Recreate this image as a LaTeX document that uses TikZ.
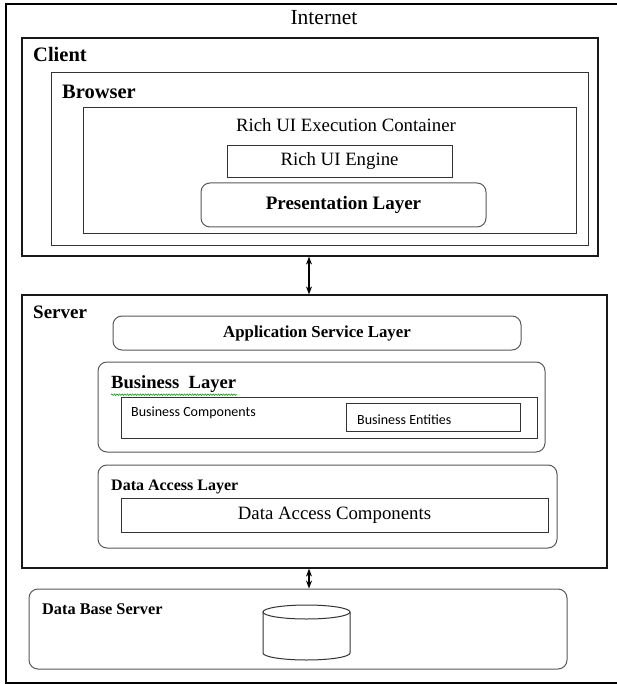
\documentclass[tikz,border=0pt]{standalone}
\usepackage{fontspec}
\setmainfont{Liberation Serif}
\newfontfamily\calib{Carlito}
\usetikzlibrary{arrows.meta,decorations.pathmorphing}
\begin{document}
\begin{tikzpicture}[x=1pt,y=-1pt,
  frame/.style={draw=black!90,line width=1.2pt,inner sep=0pt},
  sqbox/.style={draw=black!80,line width=0.9pt,inner sep=0pt},
  rbox/.style={draw=black!65,line width=1pt,rounded corners=9pt,inner sep=0pt},
  lbl/.style={anchor=west,inner sep=0pt,font=\bfseries\fontsize{20.5}{22}\selectfont},
  slbl/.style={anchor=west,inner sep=0pt,font=\bfseries\fontsize{16.3}{18}\selectfont},
  dbl/.style={{Stealth[length=8pt,width=6pt]}-{Stealth[length=8pt,width=6pt]},line width=1.2pt}]
\useasboundingbox (0,0) rectangle (616,684);
\fill[white] (0,0) rectangle (616,684);

% outer Internet frame (right edge runs off the page)
\draw[line width=1.8pt] (640,4) -- (6,4) -- (6,683) -- (640,683);
\node[inner sep=0pt,font=\fontsize{21.5}{23}\selectfont] (internet) at (324,18) {Internet};

% client side
\node[frame,minimum width=576,minimum height=218] (client) at (310,147) {};
\node[lbl] (clientl) at (33,54) {Client};
\node[sqbox,minimum width=537,minimum height=173] (browser) at (319.5,158.5) {};
\node[lbl] (browserl) at (62,92) {Browser};
\node[sqbox,minimum width=493,minimum height=126] (container) at (329.5,170) {};
\node[inner sep=0pt,font=\fontsize{18.8}{20}\selectfont] (containerl) at (346,125) {Rich UI Execution Container};
\node[sqbox,minimum width=225,minimum height=32,font=\fontsize{18.8}{20}\selectfont] (engine) at (339.5,161) {Rich UI Engine};
\node[rbox,minimum width=285,minimum height=44,font=\bfseries\fontsize{19}{21}\selectfont] (presentation) at (343.5,205) {Presentation Layer};

% server side
\node[frame,minimum width=585,minimum height=273] (server) at (314.5,431.5) {};
\node[lbl,font=\bfseries\fontsize{19}{21}\selectfont] (serverl) at (33,312) {Server};
\node[rbox,minimum width=408,minimum height=34,font=\bfseries\fontsize{16.8}{18}\selectfont] (appsvc) at (317,333) {Application Service Layer};

\node[rbox,minimum width=447,minimum height=90] (business) at (321.5,407) {};
\node[lbl,font=\bfseries\fontsize{18.6}{20}\selectfont] (businessl) at (111,384) {Business\ \ Layer};
\draw[green!55!black,line width=0.5pt,decorate,decoration={snake,amplitude=0.8pt,segment length=2.6pt}]
  (businessl.south west) ++(0,2) -- ++(126,0);
\node[sqbox,minimum width=416,minimum height=41] (bcomp) at (329,417.5) {};
\node[anchor=west,inner sep=0pt,font=\calib\fontsize{14}{16}\selectfont] (bcompl) at (131,413) {Business Components};
\node[sqbox,minimum width=174,minimum height=28] (bent) at (433,417) {};
\node[anchor=west,inner sep=0pt,font=\calib\fontsize{14}{16}\selectfont] (bentl) at (357,420) {Business Entities};

\node[rbox,minimum width=459,minimum height=83] (dal) at (327.5,506.5) {};
\node[slbl,font=\bfseries\fontsize{16}{18}\selectfont] (dall) at (111,487) {Data Access Layer};
\node[sqbox,minimum width=427,minimum height=34,font=\fontsize{18.8}{20}\selectfont] (dac) at (334.5,515) {Data Access Components};

% database server
\node[rbox,minimum width=538,minimum height=80] (dbs) at (298,629) {};
\node[slbl] (dbsl) at (42,609) {Data Base Server};
\draw[black!80,line width=1pt] (263,612) -- (263,653) arc[start angle=180,end angle=0,x radius=43.5,y radius=7] -- (350,612);
\draw[black!80,line width=1pt,fill=white] (306.5,612) ellipse[x radius=43.5,y radius=7];

% connectors
\coordinate (ax) at (309,0);
\draw[dbl] (client.south -| ax) -- (server.north -| ax);
\draw[dbl] (server.south -| ax) -- (dbs.north -| ax);
\end{tikzpicture}
\end{document}
